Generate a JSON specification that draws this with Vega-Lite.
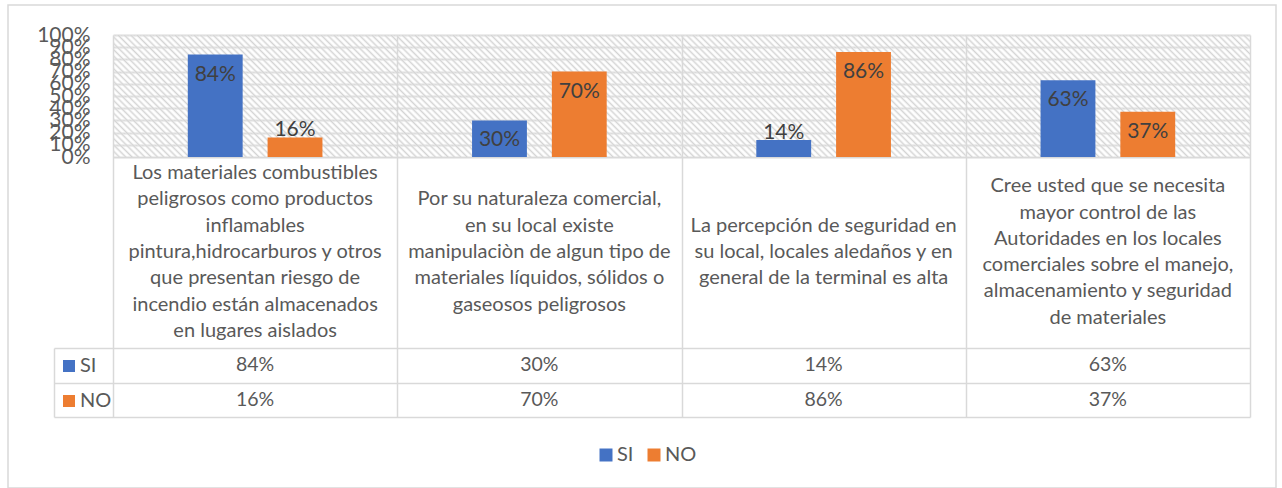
{
  "$schema": "https://vega.github.io/schema/vega-lite/v6.json",
  "width": 1268,
  "height": 483,
  "autosize": {"type": "none"},
  "padding": {"left": 8, "top": 5, "right": 6, "bottom": 0},
  "background": "white",
  "config": {
    "view": {"stroke": "#d9d9d9", "strokeWidth": 1.5, "fill": "white"},
    "font": "Lato",
    "axis": {"gridColor": "#d9d9d9", "gridWidth": 1.5, "domain": false, "ticks": false, "tickSize": 0, "labels": false, "title": null}
  },
  "datasets": {
    "preguntas": [
      {"p": "P1", "texto": "Los materiales combustibles\npeligrosos como productos\ninflamables\npintura,hidrocarburos y otros\nque presentan riesgo de\nincendio están almacenados\nen lugares aislados"},
      {"p": "P2", "texto": "Por su naturaleza comercial,\nen su local existe\nmanipulaciòn de algun tipo de\nmateriales líquidos, sólidos o\ngaseosos peligrosos"},
      {"p": "P3", "texto": "La percepción de seguridad en\nsu local, locales aledaños y en\ngeneral de la terminal es alta"},
      {"p": "P4", "texto": "Cree usted que se necesita\nmayor control de las\nAutoridades  en los locales\ncomerciales sobre el manejo,\nalmacenamiento y seguridad\nde materiales"}
    ],
    "respuestas": [
      {"p": "P1", "serie": "SI", "valor": 0.84},
      {"p": "P1", "serie": "NO", "valor": 0.16},
      {"p": "P2", "serie": "SI", "valor": 0.30},
      {"p": "P2", "serie": "NO", "valor": 0.70},
      {"p": "P3", "serie": "SI", "valor": 0.14},
      {"p": "P3", "serie": "NO", "valor": 0.86},
      {"p": "P4", "serie": "SI", "valor": 0.63},
      {"p": "P4", "serie": "NO", "valor": 0.37}
    ]
  },
  "layer": [
    {
      "layer": [
        {
          "data": {"name": "preguntas"},
          "mark": {
            "type": "rect",
            "fill": {
              "gradient": "linear", "x1": 0, "y1": 1, "x2": 1.207, "y2": 0.482,
              "stops": [
                {"offset": 0, "color": "#d3d3d3"}, {"offset": 0.0078, "color": "rgba(255,255,255,0)"},
                {"offset": 0.0156, "color": "#d3d3d3"}, {"offset": 0.0234, "color": "rgba(255,255,255,0)"},
                {"offset": 0.0313, "color": "#d3d3d3"}, {"offset": 0.0391, "color": "rgba(255,255,255,0)"},
                {"offset": 0.0469, "color": "#d3d3d3"}, {"offset": 0.0547, "color": "rgba(255,255,255,0)"},
                {"offset": 0.0625, "color": "#d3d3d3"}, {"offset": 0.0703, "color": "rgba(255,255,255,0)"},
                {"offset": 0.0781, "color": "#d3d3d3"}, {"offset": 0.0859, "color": "rgba(255,255,255,0)"},
                {"offset": 0.0938, "color": "#d3d3d3"}, {"offset": 0.1016, "color": "rgba(255,255,255,0)"},
                {"offset": 0.1094, "color": "#d3d3d3"}, {"offset": 0.1172, "color": "rgba(255,255,255,0)"},
                {"offset": 0.125, "color": "#d3d3d3"}, {"offset": 0.1328, "color": "rgba(255,255,255,0)"},
                {"offset": 0.1406, "color": "#d3d3d3"}, {"offset": 0.1484, "color": "rgba(255,255,255,0)"},
                {"offset": 0.1563, "color": "#d3d3d3"}, {"offset": 0.1641, "color": "rgba(255,255,255,0)"},
                {"offset": 0.1719, "color": "#d3d3d3"}, {"offset": 0.1797, "color": "rgba(255,255,255,0)"},
                {"offset": 0.1875, "color": "#d3d3d3"}, {"offset": 0.1953, "color": "rgba(255,255,255,0)"},
                {"offset": 0.2031, "color": "#d3d3d3"}, {"offset": 0.2109, "color": "rgba(255,255,255,0)"},
                {"offset": 0.2188, "color": "#d3d3d3"}, {"offset": 0.2266, "color": "rgba(255,255,255,0)"},
                {"offset": 0.2344, "color": "#d3d3d3"}, {"offset": 0.2422, "color": "rgba(255,255,255,0)"},
                {"offset": 0.25, "color": "#d3d3d3"}, {"offset": 0.2578, "color": "rgba(255,255,255,0)"},
                {"offset": 0.2656, "color": "#d3d3d3"}, {"offset": 0.2734, "color": "rgba(255,255,255,0)"},
                {"offset": 0.2813, "color": "#d3d3d3"}, {"offset": 0.2891, "color": "rgba(255,255,255,0)"},
                {"offset": 0.2969, "color": "#d3d3d3"}, {"offset": 0.3047, "color": "rgba(255,255,255,0)"},
                {"offset": 0.3125, "color": "#d3d3d3"}, {"offset": 0.3203, "color": "rgba(255,255,255,0)"},
                {"offset": 0.3281, "color": "#d3d3d3"}, {"offset": 0.3359, "color": "rgba(255,255,255,0)"},
                {"offset": 0.3438, "color": "#d3d3d3"}, {"offset": 0.3516, "color": "rgba(255,255,255,0)"},
                {"offset": 0.3594, "color": "#d3d3d3"}, {"offset": 0.3672, "color": "rgba(255,255,255,0)"},
                {"offset": 0.375, "color": "#d3d3d3"}, {"offset": 0.3828, "color": "rgba(255,255,255,0)"},
                {"offset": 0.3906, "color": "#d3d3d3"}, {"offset": 0.3984, "color": "rgba(255,255,255,0)"},
                {"offset": 0.4063, "color": "#d3d3d3"}, {"offset": 0.4141, "color": "rgba(255,255,255,0)"},
                {"offset": 0.4219, "color": "#d3d3d3"}, {"offset": 0.4297, "color": "rgba(255,255,255,0)"},
                {"offset": 0.4375, "color": "#d3d3d3"}, {"offset": 0.4453, "color": "rgba(255,255,255,0)"},
                {"offset": 0.4531, "color": "#d3d3d3"}, {"offset": 0.4609, "color": "rgba(255,255,255,0)"},
                {"offset": 0.4688, "color": "#d3d3d3"}, {"offset": 0.4766, "color": "rgba(255,255,255,0)"},
                {"offset": 0.4844, "color": "#d3d3d3"}, {"offset": 0.4922, "color": "rgba(255,255,255,0)"},
                {"offset": 0.5, "color": "#d3d3d3"}, {"offset": 0.5078, "color": "rgba(255,255,255,0)"},
                {"offset": 0.5156, "color": "#d3d3d3"}, {"offset": 0.5234, "color": "rgba(255,255,255,0)"},
                {"offset": 0.5313, "color": "#d3d3d3"}, {"offset": 0.5391, "color": "rgba(255,255,255,0)"},
                {"offset": 0.5469, "color": "#d3d3d3"}, {"offset": 0.5547, "color": "rgba(255,255,255,0)"},
                {"offset": 0.5625, "color": "#d3d3d3"}, {"offset": 0.5703, "color": "rgba(255,255,255,0)"},
                {"offset": 0.5781, "color": "#d3d3d3"}, {"offset": 0.5859, "color": "rgba(255,255,255,0)"},
                {"offset": 0.5938, "color": "#d3d3d3"}, {"offset": 0.6016, "color": "rgba(255,255,255,0)"},
                {"offset": 0.6094, "color": "#d3d3d3"}, {"offset": 0.6172, "color": "rgba(255,255,255,0)"},
                {"offset": 0.625, "color": "#d3d3d3"}, {"offset": 0.6328, "color": "rgba(255,255,255,0)"},
                {"offset": 0.6406, "color": "#d3d3d3"}, {"offset": 0.6484, "color": "rgba(255,255,255,0)"},
                {"offset": 0.6563, "color": "#d3d3d3"}, {"offset": 0.6641, "color": "rgba(255,255,255,0)"},
                {"offset": 0.6719, "color": "#d3d3d3"}, {"offset": 0.6797, "color": "rgba(255,255,255,0)"},
                {"offset": 0.6875, "color": "#d3d3d3"}, {"offset": 0.6953, "color": "rgba(255,255,255,0)"},
                {"offset": 0.7031, "color": "#d3d3d3"}, {"offset": 0.7109, "color": "rgba(255,255,255,0)"},
                {"offset": 0.7188, "color": "#d3d3d3"}, {"offset": 0.7266, "color": "rgba(255,255,255,0)"},
                {"offset": 0.7344, "color": "#d3d3d3"}, {"offset": 0.7422, "color": "rgba(255,255,255,0)"},
                {"offset": 0.75, "color": "#d3d3d3"}, {"offset": 0.7578, "color": "rgba(255,255,255,0)"},
                {"offset": 0.7656, "color": "#d3d3d3"}, {"offset": 0.7734, "color": "rgba(255,255,255,0)"},
                {"offset": 0.7813, "color": "#d3d3d3"}, {"offset": 0.7891, "color": "rgba(255,255,255,0)"},
                {"offset": 0.7969, "color": "#d3d3d3"}, {"offset": 0.8047, "color": "rgba(255,255,255,0)"},
                {"offset": 0.8125, "color": "#d3d3d3"}, {"offset": 0.8203, "color": "rgba(255,255,255,0)"},
                {"offset": 0.8281, "color": "#d3d3d3"}, {"offset": 0.8359, "color": "rgba(255,255,255,0)"},
                {"offset": 0.8438, "color": "#d3d3d3"}, {"offset": 0.8516, "color": "rgba(255,255,255,0)"},
                {"offset": 0.8594, "color": "#d3d3d3"}, {"offset": 0.8672, "color": "rgba(255,255,255,0)"},
                {"offset": 0.875, "color": "#d3d3d3"}, {"offset": 0.8828, "color": "rgba(255,255,255,0)"},
                {"offset": 0.8906, "color": "#d3d3d3"}, {"offset": 0.8984, "color": "rgba(255,255,255,0)"},
                {"offset": 0.9063, "color": "#d3d3d3"}, {"offset": 0.9141, "color": "rgba(255,255,255,0)"},
                {"offset": 0.9219, "color": "#d3d3d3"}, {"offset": 0.9297, "color": "rgba(255,255,255,0)"},
                {"offset": 0.9375, "color": "#d3d3d3"}, {"offset": 0.9453, "color": "rgba(255,255,255,0)"},
                {"offset": 0.9531, "color": "#d3d3d3"}, {"offset": 0.9609, "color": "rgba(255,255,255,0)"},
                {"offset": 0.9688, "color": "#d3d3d3"}, {"offset": 0.9766, "color": "rgba(255,255,255,0)"},
                {"offset": 0.9844, "color": "#d3d3d3"}, {"offset": 0.9922, "color": "rgba(255,255,255,0)"},
                {"offset": 1, "color": "#d3d3d3"}
              ]
            }
          },
          "encoding": {
            "x": {
              "field": "p", "type": "nominal",
              "scale": {"type": "band", "range": [105, 1242], "paddingInner": 0, "paddingOuter": 0},
              "axis": {"orient": "top", "grid": true, "tickBand": "extent", "labels": false, "gridWidth": 1.5}
            },
            "y": {
              "datum": 1, "type": "quantitative",
              "scale": {"domain": [-2.1311, 1], "range": [412, 30], "nice": false, "zero": false},
              "axis": {
                "orient": "left", "grid": true, "gridWidth": 2, "labels": true,
                "values": [0, 0.1, 0.2, 0.3, 0.4, 0.5, 0.6, 0.7, 0.8, 0.9, 1],
                "format": ".0%", "labelFontSize": 21, "labelColor": "#595959",
                "labelPadding": -82, "labelOverlap": false, "labelFlush": false, "labelBound": false
              }
            },
            "y2": {"datum": 0}
          }
        },
        {
          "data": {"name": "respuestas"},
          "mark": {"type": "bar"},
          "encoding": {
            "x": {"field": "p", "type": "nominal"},
            "xOffset": {"field": "serie", "type": "nominal", "scale": {"domain": ["SI", "NO"], "paddingInner": 0.3125, "paddingOuter": 0.9375}},
            "y": {"field": "valor", "type": "quantitative"},
            "color": {
              "field": "serie", "type": "nominal",
              "scale": {"domain": ["SI", "NO"], "range": ["#4472C4", "#ED7D31"]},
              "legend": {
                "orient": "none", "legendX": 588, "legendY": 440, "direction": "horizontal",
                "title": null, "symbolType": "square", "symbolSize": 169, "symbolStrokeWidth": 0,
                "labelFontSize": 20, "labelColor": "#595959", "columnPadding": 10, "labelOffset": 1
              }
            }
          }
        },
        {
          "data": {"name": "respuestas"},
          "transform": [{"filter": "datum.valor >= 0.2"}],
          "mark": {"type": "text", "baseline": "middle", "dy": 20, "fontSize": 21, "color": "#404040"},
          "encoding": {
            "x": {"field": "p", "type": "nominal"},
            "xOffset": {"field": "serie", "type": "nominal"},
            "y": {"field": "valor", "type": "quantitative"},
            "text": {"field": "valor", "type": "quantitative", "format": ".0%"}
          }
        },
        {
          "data": {"name": "respuestas"},
          "transform": [{"filter": "datum.valor < 0.2"}],
          "mark": {"type": "text", "baseline": "alphabetic", "dy": -1, "fontSize": 21, "color": "#404040"},
          "encoding": {
            "x": {"field": "p", "type": "nominal"},
            "xOffset": {"field": "serie", "type": "nominal"},
            "y": {"field": "valor", "type": "quantitative"},
            "text": {"field": "valor", "type": "quantitative", "format": ".0%"}
          }
        }
      ]
    },
    {
      "layer": [
        {
          "data": {"name": "respuestas"},
          "mark": {"type": "text", "fontSize": 19.5, "color": "#595959"},
          "encoding": {
            "x": {
              "field": "p", "type": "nominal",
              "scale": {"type": "band", "range": [46, 1242], "paddingInner": 0, "paddingOuter": 0.10378, "align": 1},
              "axis": null
            },
            "y": {
              "field": "serie", "type": "nominal",
              "scale": {"type": "band", "domain": ["SI", "NO"], "range": [343, 412], "paddingInner": 0, "paddingOuter": 0},
              "axis": {"orient": "left", "grid": true, "tickBand": "extent", "labels": false}
            },
            "text": {"field": "valor", "type": "quantitative", "format": ".0%"}
          }
        },
        {
          "data": {"name": "preguntas"},
          "transform": [{"filter": "datum.p == 'P1'"}],
          "mark": {"type": "text", "fontSize": 20, "color": "#595959", "lineBreak": "\n", "lineHeight": 26.3, "baseline": "middle", "dy": -73.4},
          "encoding": {"x": {"field": "p", "type": "nominal"}, "text": {"field": "texto", "type": "nominal"}}
        },
        {
          "data": {"name": "preguntas"},
          "transform": [{"filter": "datum.p == 'P2'"}],
          "mark": {"type": "text", "fontSize": 20, "color": "#595959", "lineBreak": "\n", "lineHeight": 26.3, "baseline": "middle", "dy": -47.1},
          "encoding": {"x": {"field": "p", "type": "nominal"}, "text": {"field": "texto", "type": "nominal"}}
        },
        {
          "data": {"name": "preguntas"},
          "transform": [{"filter": "datum.p == 'P3'"}],
          "mark": {"type": "text", "fontSize": 20, "color": "#595959", "lineBreak": "\n", "lineHeight": 26.3, "baseline": "middle", "dy": -20.8},
          "encoding": {"x": {"field": "p", "type": "nominal"}, "text": {"field": "texto", "type": "nominal"}}
        },
        {
          "data": {"name": "preguntas"},
          "transform": [{"filter": "datum.p == 'P4'"}],
          "mark": {"type": "text", "fontSize": 20, "color": "#595959", "lineBreak": "\n", "lineHeight": 26.3, "baseline": "middle", "dy": -60.25},
          "encoding": {"x": {"field": "p", "type": "nominal"}, "text": {"field": "texto", "type": "nominal"}}
        }
      ]
    },
    {
      "data": {"name": "respuestas"},
      "mark": {"type": "square", "opacity": 0},
      "encoding": {
        "x": {
          "field": "serie", "type": "nominal",
          "scale": {"type": "band", "domain": ["SI", "NO"], "range": [46, 105], "paddingInner": 0, "paddingOuter": 0},
          "axis": {"orient": "top", "grid": true, "values": ["SI"], "bandPosition": 0, "labels": false}
        },
        "y": {
          "field": "serie", "type": "nominal",
          "scale": {"type": "band", "domain": ["SI", "NO"], "range": [343, 412]},
          "axis": null
        },
        "color": {
          "field": "serie", "type": "nominal",
          "scale": {"domain": ["SI", "NO"], "range": ["#4472C4", "#ED7D31"]},
          "legend": {
            "orient": "none", "legendX": 51, "legendY": 351, "direction": "vertical",
            "title": null, "symbolType": "square", "symbolSize": 144, "symbolStrokeWidth": 0,
            "labelFontSize": 20, "labelColor": "#595959", "rowPadding": 15, "labelOffset": 1,
            "encode": {"symbols": {"update": {"opacity": {"value": 1}, "fillOpacity": {"value": 1}}}}
          }
        }
      }
    }
  ],
  "resolve": {
    "scale": {"x": "independent", "y": "independent", "xOffset": "independent", "color": "independent"},
    "axis": {"x": "independent", "y": "independent"},
    "legend": {"color": "independent"}
  }
}
